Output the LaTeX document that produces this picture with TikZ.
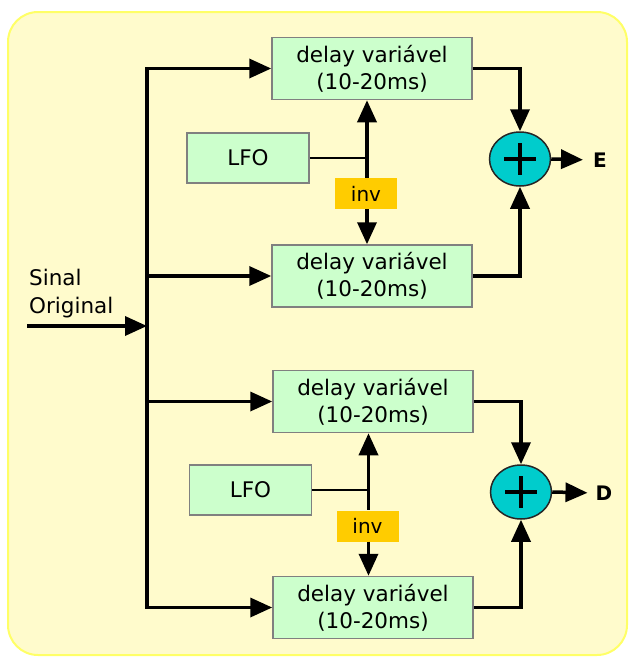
\documentclass[tikz,border=0pt]{standalone}
\usepackage{fontspec}
\setmainfont{DejaVu Sans}
\usetikzlibrary{arrows.meta,shapes.geometric}
\definecolor{panelyellow}{RGB}{255,251,204}
\definecolor{paneledge}{RGB}{255,255,102}
\definecolor{boxgreen}{RGB}{204,255,204}
\definecolor{boxedge}{RGB}{128,128,128}
\definecolor{invorange}{RGB}{255,204,0}
\definecolor{sumcyan}{RGB}{0,204,204}

\begin{document}
\begin{tikzpicture}[x=1pt, y=-1pt,
    delaybox/.style={draw=boxedge, fill=boxgreen, line width=1.5pt, inner sep=0pt,
      minimum width=200pt, minimum height=62pt, align=center,
      font=\fontsize{21.5}{27}\selectfont},
    lfobox/.style={delaybox, minimum width=122pt, minimum height=50pt},
    invbox/.style={fill=invorange, inner sep=0pt, minimum width=62pt, minimum height=31pt,
      font=\fontsize{20}{24}\selectfont},
    sumnode/.style={ellipse, draw=black!85, fill=sumcyan, line width=1.5pt, inner sep=0pt,
      minimum width=61pt, minimum height=54pt},
    outlabel/.style={inner sep=0pt, font=\fontsize{20}{24}\selectfont\bfseries},
    wire/.style={line width=3.5pt},
    thinwire/.style={line width=2.5pt},
    feed/.style={wire, -{Triangle[length=22pt, width=19pt]}}]
  \useasboundingbox (0,0) rectangle (629,659);
  \filldraw[fill=panelyellow, draw=paneledge, line width=2pt, rounded corners=30pt]
    (8,12) rectangle (627,655);

  % delay lines
  \node[delaybox] (d1) at (372,68.5) {delay variável\\(10-20ms)};
  \node[delaybox] (d2) at (372,276) {delay variável\\(10-20ms)};
  \node[delaybox] (d3) at (373,401.5) {delay variável\\(10-20ms)};
  \node[delaybox] (d4) at (373,607.5) {delay variável\\(10-20ms)};

  % modulation
  \node[lfobox] (lfo1) at (248,158) {LFO};
  \node[lfobox] (lfo2) at (250.5,490) {LFO};
  \node[invbox] (inv1) at (366,193.5) {inv};
  \node[invbox] (inv2) at (367.5,526) {inv};
  \coordinate (j1) at (367,158);
  \coordinate (j2) at (368.5,490);

  % mixers
  \node[sumnode] (sum1) at (520,159) {};
  \node[sumnode] (sum2) at (521,492) {};
  \node[outlabel] (outE) at (600,160) {E};
  \node[outlabel] (outD) at (604,493) {D};
  \draw[wire] (sum1.center) ++(-16,0) -- ++(32,0) (sum1.center) ++(0,-16) -- ++(0,32);
  \draw[wire] (sum2.center) ++(-16,0) -- ++(32,0) (sum2.center) ++(0,-16) -- ++(0,32);

  % input bus
  \node[anchor=north west, inner sep=0pt, align=left, font=\fontsize{21.5}{28}\selectfont]
    (sinal) at (29,269) {Sinal\\Original};
  \coordinate (bus) at (147,0);
  \coordinate (in) at (27,326);
  \draw[feed] (in) -- (in -| bus);
  \draw[feed] (bus |- d4.west) -- (bus |- d1.west) -- (d1.west);
  \draw[feed] (bus |- d1.west) -- (bus |- d4.west) -- (d4.west);
  \draw[feed] (bus |- d2.west) -- (d2.west);
  \draw[feed] (bus |- d3.west) -- (d3.west);

  % LFO to delays
  \draw[thinwire] (lfo1.east) -- (j1);
  \draw[feed] (j1) -- (j1 |- d1.south);
  \draw[wire] (j1) -- (j1 |- inv1.north);
  \draw[feed] (j1 |- inv1.south) -- (j1 |- d2.north);
  \draw[thinwire] (lfo2.east) -- (j2);
  \draw[feed] (j2) -- (j2 |- d3.south);
  \draw[wire] (j2) -- (j2 |- inv2.north);
  \draw[feed] (j2 |- inv2.south) -- (j2 |- d4.north);

  % delays to mixers
  \draw[feed] (d1.east) -| (sum1.north);
  \draw[feed] (d2.east) -| (sum1.south);
  \draw[feed] (d3.east) -| (sum2.north);
  \draw[feed] (d4.east) -| (sum2.south);
  \draw[feed, shorten >=10pt] (sum1.east) -- (outE.west);
  \draw[feed, shorten >=8pt] (sum2.east) -- (outD.west);
\end{tikzpicture}
\end{document}
